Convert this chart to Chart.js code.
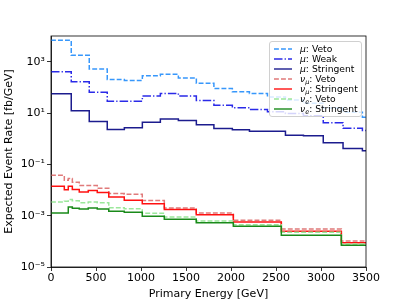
<!DOCTYPE html>
<html>
<head>
<meta charset="utf-8">
<script src="https://cdn.jsdelivr.net/npm/chart.js@4"></script>
<style>
  body { margin: 0; background: #fff; }
  #wrap { position: relative; width: 407px; height: 305px; }
  #legend {
    position: absolute; left: 269px; top: 41px; width: 91px; height: 72px;
    border: 1px solid #d0d0d0; border-radius: 3px; background: rgba(255,255,255,0.8);
    font-family: "DejaVu Sans", sans-serif; font-size: 9.2px; color: #000;
    padding-top: 2px; box-sizing: content-box;
  }
  .row { height: 10px; line-height: 10px; display: flex; align-items: center; white-space: nowrap; }
  .row svg { margin-left: 4px; margin-right: 8px; flex: none; }
  .row i { font-style: italic; }
  .row sub { font-size: 6.5px; vertical-align: -2px; line-height: 0; }
</style>
</head>
<body>
<div id="wrap">
  <canvas id="chart" width="407" height="305"></canvas>
  <div id="legend"></div>
</div>
<script>
// ---- DATA ----
const muEdges = [0, 225, 425, 625, 815, 1015, 1215, 1415, 1615, 1810, 2015, 2205, 2405, 2605, 2805, 3025, 3245, 3460, 3500];
const muVeto = [6800, 1770, 515, 200, 184, 283, 320, 230, 143, 90, 68, 58, 42, 32, 24, 15.5, 10.8, 6.9];
const muWeak = [405, 165, 64, 29, 29, 46, 58, 46, 30.4, 20, 16, 13.8, 11.3, 9.5, 7.9, 4.2, 2.53, 2.06];
const muStringent = [56, 12.2, 4.7, 2.29, 2.64, 4.4, 5.8, 5.1, 3.46, 2.5, 2.25, 1.96, 1.96, 1.37, 1.3, 0.70, 0.415, 0.335];

const nuEdges = [0, 148, 192, 237, 314, 414, 514, 642, 814, 1014, 1259, 1614, 2026, 2559, 3226, 3500];
const nuMuVeto = [0.0377, 0.0241, 0.0281, 0.0201, 0.0150, 0.0150, 0.01175, 0.0073, 0.00684, 0.00389, 0.0020, 0.00128, 0.000662, 0.000303, 0.000102];
const nuMuStringent = [0.0140, 0.01025, 0.0140, 0.01045, 0.0084, 0.00955, 0.00798, 0.00537, 0.00399, 0.00292, 0.00173, 0.00108, 0.000569, 0.000246, 0.0000877];
const nuEVeto = [0.00343, 0.00365, 0.00425, 0.00382, 0.00319, 0.00343, 0.00319, 0.00204, 0.00186, 0.00124, 0.00089, 0.00062, 0.000442, 0.000225, 0.0000787];
const nuEStringent = [0.00128, 0.00128, 0.00219, 0.00195, 0.00183, 0.0020, 0.00183, 0.00149, 0.00136, 0.00095, 0.000724, 0.000529, 0.000386, 0.000172, 0.00007];

const xTicks = [0, 500, 1000, 1500, 2000, 2500, 3000, 3500];
const yTickValues = [1e-5, 1e-3, 1e-1, 1e1, 1e3];
const yTickLabels = ["10\u207B\u2075", "10\u207B\u00B3", "10\u207B\u00B9", "10\u00B9", "10\u00B3"];

const legendLabels = [
    "<i>\u03BC</i>: Veto",
    "<i>\u03BC</i>: Weak",
    "<i>\u03BC</i>: Stringent",
    "<i>\u03BD<sub>\u03BC</sub></i>: Veto",
    "<i>\u03BD<sub>\u03BC</sub></i>: Stringent",
    "<i>\u03BD<sub>e</sub></i>: Veto",
    "<i>\u03BD<sub>e</sub></i>: Stringent"
];

// build step-shaped points: each value holds from its left edge to the next edge
function steps(edges, vals) {
    const pts = vals.map((v, i) => ({ x: edges[i], y: v }));
    pts.push({ x: edges[edges.length - 1], y: vals[vals.length - 1] });
    return pts;
}

const dashed = [4.9, 2.1];
const dashDot = [8.5, 2.1, 1.3, 2.1];

const series = [
    { data: steps(muEdges, muVeto), color: "#3797fb", dash: dashed },
    { data: steps(muEdges, muWeak), color: "#2a2ae8", dash: dashDot },
    { data: steps(muEdges, muStringent), color: "#1c1c8e", dash: [] },
    { data: steps(nuEdges, nuMuVeto), color: "#e07a7a", dash: dashed },
    { data: steps(nuEdges, nuMuStringent), color: "#ff1010", dash: [] },
    { data: steps(nuEdges, nuEVeto), color: "#9be89b", dash: dashed },
    { data: steps(nuEdges, nuEStringent), color: "#1a8a1a", dash: [] }
];

// ---- LEGEND ----
const legendBox = document.getElementById("legend");
series.forEach((s, i) => {
    const row = document.createElement("div");
    row.className = "row";
    row.innerHTML = `<svg width="18" height="4"><line x1="0" y1="2" x2="18" y2="2" stroke="${s.color}" stroke-width="1.4" stroke-dasharray="${s.dash.join(" ") || "none"}"/></svg><span>${legendLabels[i]}</span>`;
    legendBox.appendChild(row);
});

// ---- FRAME (matplotlib style box) ----
const framePlugin = {
    id: "frame",
    afterDraw(chart) {
        const a = chart.chartArea;
        const ctx = chart.ctx;
        ctx.save();
        ctx.strokeStyle = "#000";
        ctx.lineWidth = 0.8;
        ctx.strokeRect(a.left, a.top, a.right - a.left, a.bottom - a.top);
        ctx.restore();
    }
};

const font = { family: "'DejaVu Sans', sans-serif", size: 11 };

new Chart(document.getElementById("chart").getContext("2d"), {
    type: "line",
    data: {
        datasets: series.map(s => ({
            data: s.data,
            borderColor: s.color,
            borderDash: s.dash,
            borderWidth: 1.5,
            stepped: true,
            pointRadius: 0,
            fill: false
        })).reverse()
    },
    options: {
        responsive: false,
        animation: false,
        layout: { padding: { top: 36, right: 41, left: 3, bottom: 4 } },
        plugins: { legend: { display: false }, tooltip: { enabled: false } },
        scales: {
            x: {
                type: "linear",
                min: 0,
                max: 3500,
                afterBuildTicks: s => { s.ticks = xTicks.map(v => ({ value: v })); },
                afterFit: s => { s.height = 34; },
                ticks: { color: "#000", font: font, maxRotation: 0, autoSkip: false, padding: 1, callback: v => String(v) },
                grid: { drawOnChartArea: false, color: "#000", tickLength: 4, tickWidth: 0.8 },
                border: { color: "#000", width: 0.8 },
                title: { display: true, text: "Primary Energy [GeV]", color: "#000", font: font, padding: { top: 1, bottom: 0 } }
            },
            y: {
                type: "logarithmic",
                min: 1e-5,
                max: 1e4,
                afterBuildTicks: s => { s.ticks = yTickValues.map(v => ({ value: v })); },
                afterFit: s => { s.width = 48; },
                ticks: {
                    color: "#000", font: font, padding: 2,
                    callback: v => {
                        const i = yTickValues.findIndex(t => Math.abs(Math.log10(t) - Math.log10(v)) < 1e-6);
                        return i >= 0 ? yTickLabels[i] : "";
                    }
                },
                grid: { drawOnChartArea: false, color: "#000", tickLength: 4, tickWidth: 0.8 },
                border: { color: "#000", width: 0.8 },
                title: { display: true, text: "Expected Event Rate [fb/GeV]", color: "#000", font: font, padding: { top: 0, bottom: 0 } }
            }
        }
    },
    plugins: [framePlugin]
});
</script>
</body>
</html>
